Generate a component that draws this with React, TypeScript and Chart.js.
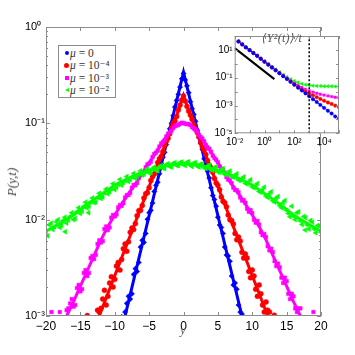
import React, { useEffect, useRef } from "react";
import { Chart, registerables } from "chart.js";

Chart.register(...registerables);

// ---------- main panel data: P(y,t) ----------
const blueX = [-9, -8.5, -8, -7.5, -7, -6.5, -6, -5.5, -5, -4.5, -4, -3.5, -3, -2.5, -2, -1.5, -1, -0.5, 0, 0.5, 1, 1.5, 2, 2.5, 3, 3.5, 4, 4.5, 5, 5.5, 6, 6.5, 7, 7.5, 8, 8.5];
const blueY = [0.00098, 0.0011, 0.0016, 0.0017, 0.0031, 0.0036, 0.0061, 0.0072, 0.0118, 0.0149, 0.0228, 0.03, 0.0445, 0.0602, 0.088, 0.12, 0.173, 0.238, 0.33, 0.245, 0.168, 0.124, 0.085, 0.0625, 0.0428, 0.0318, 0.0214, 0.0162, 0.0106, 0.0083, 0.0052, 0.0042, 0.0026, 0.0022, 0.0013, 0.00105];
const blueX2 = [-8.25, -7.75, -7.25, -6.75, -6.25, -5.75, -5.25, -4.75, -4.25, -3.75, -3.25, -2.75, -2.25, -1.75, -1.25, -0.75, -0.25, 0.25, 0.75, 1.25, 1.75, 2.25, 2.75, 3.25, 3.75, 4.25, 4.75, 5.25, 5.75, 6.25, 6.75, 7.25, 7.75, 8.25];
const blueY2 = [0.00135, 0.0015, 0.0027, 0.0029, 0.0052, 0.0058, 0.0101, 0.0125, 0.0196, 0.0245, 0.0382, 0.05, 0.075, 0.1, 0.148, 0.2, 0.29, 0.282, 0.208, 0.142, 0.105, 0.071, 0.0535, 0.0355, 0.027, 0.0178, 0.0138, 0.0088, 0.0072, 0.0043, 0.0037, 0.0021, 0.0019, 0.0011];
const blueFitX = [-9, 0, 9];
const blueFitY = [0.00071, 0.34, 0.00071];

const redX = [-14, -12.5, -12, -11.5, -11, -10.5, -10, -9.5, -9, -8.5, -8, -7.5, -7, -6.5, -6, -5.5, -5, -4.5, -4, -3.5, -3, -2.5, -2, -1.5, -1, -0.5, 0, 0.5, 1, 1.5, 2, 2.5, 3, 3.5, 4, 4.5, 5, 5.5, 6, 6.5, 7, 7.5, 8, 8.5, 9, 9.5, 10, 10.5, 11, 11.5, 12, 12.5, 13.2];
const redY = [0.00101, 0.00115, 0.0012, 0.00185, 0.0016, 0.00255, 0.0024, 0.0036, 0.00385, 0.0056, 0.0059, 0.0082, 0.0091, 0.0124, 0.014, 0.0186, 0.0215, 0.028, 0.0332, 0.0428, 0.051, 0.0655, 0.078, 0.099, 0.118, 0.155, 0.192, 0.15, 0.122, 0.0965, 0.0805, 0.063, 0.053, 0.041, 0.0345, 0.0268, 0.0228, 0.0172, 0.015, 0.0112, 0.0098, 0.0072, 0.0066, 0.0046, 0.0044, 0.0029, 0.003, 0.0019, 0.0021, 0.0013, 0.0014, 0.0011, 0.00102];
const redX2 = [-12.25, -11.75, -11.25, -10.75, -10.25, -9.75, -9.25, -8.75, -8.25, -7.75, -7.25, -6.75, -6.25, -5.75, -5.25, -4.75, -4.25, -3.75, -3.25, -2.75, -2.25, -1.75, -1.25, -0.75, -0.25, 0.25, 0.75, 1.25, 1.75, 2.25, 2.75, 3.25, 3.75, 4.25, 4.75, 5.25, 5.75, 6.25, 6.75, 7.25, 7.75, 8.25, 8.75, 9.25, 9.75, 10.25, 10.75, 11.25, 11.75, 12.25];
const redY2 = [0.0011, 0.0015, 0.0013, 0.0022, 0.002, 0.0033, 0.003, 0.005, 0.0047, 0.0074, 0.0079, 0.011, 0.0125, 0.0168, 0.019, 0.0255, 0.0298, 0.0392, 0.0452, 0.059, 0.07, 0.09, 0.106, 0.138, 0.175, 0.171, 0.134, 0.11, 0.087, 0.0725, 0.0565, 0.0475, 0.0368, 0.0312, 0.024, 0.0205, 0.0155, 0.0136, 0.01, 0.009, 0.0062, 0.006, 0.004, 0.004, 0.0025, 0.0026, 0.0016, 0.0017, 0.0011, 0.00115];
const redFitX = [-13, -2, -1, 0, 1, 2, 13];
const redFitY = [0.00073, 0.0794, 0.12, 0.195, 0.12, 0.0794, 0.00073];

const magX = [-19.2, -18, -17, -16.5, -16, -15.5, -15, -14.5, -14, -13.5, -13, -12.5, -12, -11.5, -11, -10.5, -10, -9.5, -9, -8.5, -8, -7.5, -7, -6.5, -6, -5.5, -5, -4.5, -4, -3.5, -3, -2.5, -2, -1.5, -1, -0.5, 0, 0.5, 1, 1.5, 2, 2.5, 3, 3.5, 4, 4.5, 5, 5.5, 6, 6.5, 7, 7.5, 8, 8.5, 9, 9.5, 10, 10.5, 11, 11.5, 12, 12.5, 13, 13.5, 14, 14.5, 15, 15.5, 16, 16.5, 17, 18.9];
const magY = [0.0011, 0.0011, 0.00115, 0.00135, 0.00125, 0.00195, 0.0018, 0.0028, 0.0026, 0.004, 0.0039, 0.0056, 0.0058, 0.008, 0.0078, 0.0105, 0.0108, 0.0134, 0.0139, 0.017, 0.018, 0.0215, 0.0228, 0.0272, 0.0296, 0.035, 0.0382, 0.0448, 0.0495, 0.0575, 0.064, 0.073, 0.0805, 0.0895, 0.095, 0.0995, 0.101, 0.098, 0.096, 0.0885, 0.082, 0.0718, 0.0652, 0.0562, 0.0508, 0.0436, 0.0395, 0.0336, 0.0308, 0.026, 0.024, 0.0203, 0.0192, 0.0158, 0.015, 0.0121, 0.0117, 0.0093, 0.0089, 0.0069, 0.0066, 0.0048, 0.0046, 0.0033, 0.0032, 0.0022, 0.0023, 0.0015, 0.0016, 0.0011, 0.0012, 0.0011];
const magX2 = [-16.75, -16.25, -15.75, -15.25, -14.75, -14.25, -13.75, -13.25, -12.75, -12.25, -11.75, -11.25, -10.75, -10.25, -9.75, -9.25, -8.75, -8.25, -7.75, -7.25, -6.75, -6.25, -5.75, -5.25, -4.75, -4.25, -3.75, -3.25, -2.75, -2.25, -1.75, -1.25, -0.75, -0.25, 0.25, 0.75, 1.25, 1.75, 2.25, 2.75, 3.25, 3.75, 4.25, 4.75, 5.25, 5.75, 6.25, 6.75, 7.25, 7.75, 8.25, 8.75, 9.25, 9.75, 10.25, 10.75, 11.25, 11.75, 12.25, 12.75, 13.25, 13.75, 14.25, 14.75, 15.25, 15.75, 16.25, 16.75];
const magY2 = [0.0012, 0.0015, 0.0013, 0.0021, 0.0019, 0.003, 0.0028, 0.0042, 0.0043, 0.0061, 0.006, 0.0085, 0.0083, 0.0112, 0.0113, 0.0142, 0.0148, 0.018, 0.019, 0.023, 0.024, 0.0292, 0.031, 0.0375, 0.04, 0.0482, 0.052, 0.0618, 0.067, 0.078, 0.084, 0.0935, 0.096, 0.1015, 0.099, 0.0985, 0.091, 0.086, 0.0755, 0.0695, 0.0595, 0.0545, 0.0462, 0.042, 0.0358, 0.033, 0.0276, 0.0256, 0.0215, 0.0202, 0.017, 0.016, 0.013, 0.0126, 0.01, 0.0097, 0.0074, 0.0071, 0.0053, 0.005, 0.0037, 0.0035, 0.0025, 0.0025, 0.0017, 0.0017, 0.0012, 0.0012];
const magFitX = [-18, -17, -16, -15, -14, -13, -12, -11, -10, -9, -8, -7, -6, -5, -4, -3, -2, -1, 0, 1, 2, 3, 4, 5, 6, 7, 8, 9, 10, 11, 12, 13, 14, 15, 16, 17, 18];
const magFitY = [0.000692, 0.001, 0.00141, 0.00204, 0.00295, 0.00427, 0.00617, 0.00851, 0.0112, 0.0145, 0.0186, 0.0234, 0.0302, 0.0389, 0.0501, 0.0646, 0.0813, 0.0955, 0.1, 0.0955, 0.0813, 0.0646, 0.0501, 0.0389, 0.0302, 0.0234, 0.0186, 0.0145, 0.0112, 0.00851, 0.00617, 0.00427, 0.00295, 0.00204, 0.00141, 0.001, 0.000692];

const greenX = [-20, -19.5, -19, -18.5, -18, -17.5, -17.2, -17, -16.5, -16, -15.5, -15, -14.5, -14, -13.8, -13.5, -13, -12.5, -12, -11.5, -11, -10.5, -10, -9.5, -9, -8.5, -8, -7.5, -7, -6.5, -6, -5.5, -5, -4.5, -4, -3.5, -3, -2.5, -2, -1.5, -1, -0.5, 0, 0.5, 1, 1.5, 2, 2.5, 3, 3.5, 4, 4.5, 5, 5.5, 6, 6.5, 7, 7.5, 8, 8.5, 9, 9.5, 10, 10.5, 11, 11.5, 12, 12.5, 13, 13.5, 14, 14.5, 15, 15.5, 16, 16.5, 17, 17.5, 17.7, 18, 18.5, 19, 19.5, 20];
const greenY = [0.0072, 0.0088, 0.0079, 0.0095, 0.0083, 0.0098, 0.0075, 0.0092, 0.0108, 0.01, 0.0121, 0.0116, 0.0137, 0.0132, 0.0118, 0.0152, 0.015, 0.017, 0.0166, 0.019, 0.0185, 0.021, 0.0205, 0.0233, 0.0228, 0.0255, 0.0248, 0.0278, 0.0268, 0.0298, 0.029, 0.0318, 0.0305, 0.0338, 0.0325, 0.0352, 0.0342, 0.0372, 0.0355, 0.0385, 0.0365, 0.0392, 0.0372, 0.0395, 0.0368, 0.0388, 0.0358, 0.0378, 0.0345, 0.0362, 0.033, 0.0348, 0.0312, 0.033, 0.0296, 0.0305, 0.028, 0.0287, 0.0258, 0.0266, 0.0238, 0.0245, 0.0219, 0.0225, 0.0196, 0.0205, 0.0176, 0.0186, 0.0157, 0.0168, 0.014, 0.015, 0.0125, 0.0107, 0.0108, 0.0118, 0.0097, 0.0108, 0.0078, 0.0088, 0.0098, 0.008, 0.0087, 0.0074];
const greenX2 = [-19.75, -19.25, -18.75, -18.25, -17.75, -17.25, -16.75, -16.25, -15.75, -15.25, -14.75, -14.25, -13.75, -13.25, -12.75, -12.25, -11.75, -11.25, -10.75, -10.25, -9.75, -9.25, -8.75, -8.25, -7.75, -7.25, -6.75, -6.25, -5.75, -5.25, -4.75, -4.25, -3.75, -3.25, -2.75, -2.25, -1.75, -1.25, -0.75, -0.25, 0.25, 0.75, 1.25, 1.75, 2.25, 2.75, 3.25, 3.75, 4.25, 4.75, 5.25, 5.75, 6.25, 6.75, 7.25, 7.75, 8.25, 8.75, 9.25, 9.75, 10.25, 10.75, 11.25, 11.75, 12.25, 12.75, 13.25, 13.75, 14.25, 14.75, 15.25, 15.75, 16.25, 16.75, 17.25, 17.75, 18.25, 18.75, 19.25, 19.75];
const greenY2 = [0.0068, 0.0092, 0.0084, 0.01, 0.0087, 0.0106, 0.0099, 0.0118, 0.0103, 0.0133, 0.0122, 0.0152, 0.0138, 0.0168, 0.0152, 0.0188, 0.0172, 0.0208, 0.0195, 0.0236, 0.0216, 0.0262, 0.0243, 0.0281, 0.026, 0.0302, 0.0282, 0.0322, 0.0296, 0.0338, 0.0308, 0.0352, 0.0322, 0.0366, 0.034, 0.0382, 0.0352, 0.039, 0.0362, 0.0397, 0.0364, 0.0399, 0.0356, 0.039, 0.0352, 0.038, 0.034, 0.0368, 0.0325, 0.0355, 0.031, 0.034, 0.0292, 0.032, 0.0275, 0.03, 0.0255, 0.0278, 0.0235, 0.026, 0.0214, 0.0238, 0.0192, 0.0218, 0.017, 0.0195, 0.0152, 0.0174, 0.0133, 0.0158, 0.0116, 0.0138, 0.01, 0.0121, 0.0089, 0.0105, 0.008, 0.0094, 0.0073, 0.0086];
const greenFitX = [-20, -18, -16, -14, -12, -10, -8, -6, -4, -2, 0, 2, 4, 6, 8, 10, 12, 14, 16, 18, 20];
const greenFitY = [0.00759, 0.00912, 0.0112, 0.0145, 0.0182, 0.0229, 0.0269, 0.0309, 0.0339, 0.0372, 0.038, 0.0372, 0.0339, 0.0309, 0.0269, 0.0229, 0.0182, 0.0145, 0.0112, 0.00912, 0.00759];

const mainXTicks = [-20, -15, -10, -5, 0, 5, 10, 15, 20];
const mainXLabels = ["\u221220", "\u221215", "\u221210", "\u22125", "0", "5", "10", "15", "20"];
const mainYTicks = [0.001, 0.01, 0.1, 1];
const mainYLabels = ["10\u207B\u00B3", "10\u207B\u00B2", "10\u207B\u00B9", "10\u2070"];

const legendLabels = ["0", "10\u207B\u2074", "10\u207B\u00B3", "10\u207B\u00B2"];

// ---------- inset data: <Y^2(t)>/t ----------
const insetT = [0.018, 0.032, 0.056, 0.1, 0.18, 0.32, 0.56, 1, 1.8, 3.2, 5.6, 10, 18, 32, 56, 100, 180, 320, 560, 1000, 1800, 3200, 5600, 10000, 18000, 32000, 56000, 100000];
const insetBlue = [39.8, 24.5, 15.1, 9.55, 5.89, 3.72, 2.29, 1.41, 0.871, 0.537, 0.339, 0.209, 0.129, 0.0813, 0.0501, 0.0309, 0.0191, 0.012, 0.00741, 0.00457, 0.00282, 0.00178, 0.0011, 0.000676, 0.000417, 0.000263, 0.000162, 0.00011];
const insetRed = [40.5, 24.8, 15.3, 9.66, 5.95, 3.76, 2.31, 1.43, 0.88, 0.545, 0.343, 0.212, 0.131, 0.0832, 0.0525, 0.0339, 0.0219, 0.0145, 0.01, 0.00724, 0.00537, 0.00398, 0.00295, 0.00219, 0.00166, 0.00129, 0.000977, 0.000759];
const insetMag = [41.0, 25.2, 15.5, 9.77, 6.03, 3.8, 2.34, 1.45, 0.89, 0.55, 0.35, 0.218, 0.135, 0.0891, 0.0575, 0.0398, 0.0282, 0.02, 0.0148, 0.0112, 0.00912, 0.00759, 0.00646, 0.00562, 0.0049, 0.00437, 0.00389, 0.00355];
const insetGreen = [42.7, 26.3, 16.2, 10.2, 6.31, 3.98, 2.45, 1.51, 0.955, 0.603, 0.389, 0.251, 0.166, 0.112, 0.0794, 0.0575, 0.0447, 0.0363, 0.0316, 0.0288, 0.0269, 0.0257, 0.0251, 0.0245, 0.024, 0.024, 0.0234, 0.0234];
const slopeT = [0.01, 4.6];
const slopeY = [13.5, 0.079];
const markT = [1000, 1000];
const markY = [0.00001, 100];

const insetXTicks = [0.01, 0.1, 1, 10, 100, 1000, 10000, 100000];
const insetXLabels = ["10\u207B\u00B2", "", "10\u2070", "", "10\u00B2", "", "10\u2074", ""];
const insetYTicks = [0.00001, 0.0001, 0.001, 0.01, 0.1, 1, 10, 100];
const insetYLabels = ["10\u207B\u2075", "", "10\u207B\u00B3", "", "10\u207B\u00B9", "", "10\u00B9", ""];

const BLUE = "#0000ff";
const RED = "#ff0000";
const MAG = "#ff00ff";
const GREEN = "#00ff00";

const pts = (xs: number[], ys: number[]) => xs.map((x, i) => ({ x, y: ys[i] }));

const findIdx = (arr: number[], v: number) => arr.findIndex((m) => Math.abs(m - v) / m < 1e-6);

const framePlugin = {
  id: "frameTicks",
  beforeDraw(chart: any, _a: any, o: any) {
    if (!o || !o.fill) return;
    const { ctx, chartArea: a } = chart;
    ctx.save();
    ctx.fillStyle = o.fill;
    ctx.fillRect(a.left, a.top, a.right - a.left, a.bottom - a.top);
    ctx.restore();
  },
  afterDraw(chart: any, _a: any, o: any) {
    const { ctx, chartArea: a } = chart;
    const xs = chart.scales.x;
    const ys = chart.scales.y;
    ctx.save();
    ctx.strokeStyle = o.color;
    ctx.lineWidth = 1;
    ctx.beginPath();
    xs.ticks.forEach((t: any) => {
      const p = Math.round(xs.getPixelForValue(t.value)) + 0.5;
      const L = t.minor ? o.minor : o.major;
      ctx.moveTo(p, a.bottom);
      ctx.lineTo(p, a.bottom - L);
      ctx.moveTo(p, a.top);
      ctx.lineTo(p, a.top + L);
    });
    ys.ticks.forEach((t: any) => {
      const p = Math.round(ys.getPixelForValue(t.value)) + 0.5;
      const L = t.minor ? o.minor : o.major;
      ctx.moveTo(a.left, p);
      ctx.lineTo(a.left + L, p);
      ctx.moveTo(a.right, p);
      ctx.lineTo(a.right - L, p);
    });
    ctx.stroke();
    ctx.strokeRect(a.left + 0.5, a.top + 0.5, a.right - a.left - 1, a.bottom - a.top - 1);
    ctx.restore();
  },
};

function scatterSet(xs: number[], ys: number[], color: string, style: string, r: number, rot = 0) {
  return {
    data: pts(xs, ys),
    backgroundColor: color,
    borderColor: color,
    pointStyle: style,
    pointRadius: r,
    pointRotation: rot,
    pointBorderWidth: 0.5,
    showLine: false,
  };
}

function fitSet(xs: number[], ys: number[], color: string) {
  return {
    data: pts(xs, ys),
    borderColor: color,
    backgroundColor: color,
    borderWidth: 3,
    pointRadius: 0,
    showLine: true,
    tension: 0,
  };
}

function insetSet(ys: number[], color: string, style: string, r: number, rot = 0) {
  return {
    data: pts(insetT, ys),
    borderColor: color,
    backgroundColor: color,
    borderWidth: 1,
    borderDash: [3, 2],
    pointStyle: style,
    pointRadius: r,
    pointRotation: rot,
    pointBorderWidth: 0.5,
    showLine: true,
  };
}

function MainChart() {
  const ref = useRef<HTMLCanvasElement>(null);
  useEffect(() => {
    if (!ref.current) return;
    const chart = new Chart(ref.current, {
      type: "scatter",
      data: {
        datasets: [
          scatterSet(greenX, greenY, GREEN, "triangle", 2.8, 270),
          scatterSet(greenX2, greenY2, GREEN, "triangle", 2.8, 270),
          fitSet(greenFitX, greenFitY, GREEN),
          scatterSet(magX, magY, MAG, "rect", 2.5),
          scatterSet(magX2, magY2, MAG, "rect", 2.5),
          fitSet(magFitX, magFitY, MAG),
          scatterSet(redX, redY, RED, "circle", 2.5),
          scatterSet(redX2, redY2, RED, "circle", 2.5),
          fitSet(redFitX, redFitY, RED),
          scatterSet(blueX, blueY, BLUE, "rectRot", 2.6),
          scatterSet(blueX2, blueY2, BLUE, "rectRot", 2.6),
          fitSet(blueFitX, blueFitY, BLUE),
        ] as any,
      },
      options: {
        responsive: false,
        animation: false,
        events: [],
        layout: { padding: { left: 25, right: 34, top: 27, bottom: 0 } },
        plugins: {
          legend: { display: false },
          tooltip: { enabled: false },
          frameTicks: { color: "#8c8c8c", major: 4, minor: 2, fill: null },
        } as any,
        scales: {
          x: {
            type: "linear",
            min: -20,
            max: 20,
            grid: { display: false, drawTicks: false },
            border: { display: false },
            afterBuildTicks: (s: any) => {
              s.ticks = mainXTicks.map((v) => ({ value: v }));
            },
            afterFit: (s: any) => {
              s.height = 39;
            },
            ticks: {
              autoSkip: false,
              maxRotation: 0,
              padding: 3,
              color: "#000",
              font: { family: "'Liberation Sans', Arial, sans-serif", size: 12 },
              callback: (v: any) => {
                const i = mainXTicks.indexOf(Number(v));
                return i >= 0 ? mainXLabels[i] : "";
              },
            },
          },
          y: {
            type: "logarithmic",
            min: 0.001,
            max: 1,
            grid: { display: false, drawTicks: false },
            border: { display: false },
            afterBuildTicks: (s: any) => {
              const t: any[] = [];
              for (let d = 0; d < mainYTicks.length; d++) {
                t.push({ value: mainYTicks[d] });
                if (d < mainYTicks.length - 1) {
                  for (let k = 2; k <= 9; k++) t.push({ value: mainYTicks[d] * k, minor: true });
                }
              }
              s.ticks = t;
            },
            afterFit: (s: any) => {
              s.width = 21;
            },
            ticks: {
              autoSkip: false,
              crossAlign: "far",
              padding: 0,
              color: "#000",
              font: { family: "'Liberation Sans', Arial, sans-serif", size: 11 },
              callback: (v: any) => {
                const i = findIdx(mainYTicks, Number(v));
                return i >= 0 ? mainYLabels[i] : "";
              },
            },
          },
        },
      } as any,
      plugins: [framePlugin as any],
    });
    return () => chart.destroy();
  }, []);
  return <canvas ref={ref} width={355} height={355} style={{ position: "absolute", left: 0, top: 0, width: 355, height: 355 }} />;
}

function InsetChart() {
  const ref = useRef<HTMLCanvasElement>(null);
  useEffect(() => {
    if (!ref.current) return;
    const chart = new Chart(ref.current, {
      type: "scatter",
      data: {
        datasets: [
          {
            data: pts(markT, markY),
            borderColor: "#000",
            borderWidth: 1.5,
            borderDash: [2, 2],
            pointRadius: 0,
            showLine: true,
          },
          insetSet(insetBlue, BLUE, "circle", 1.7),
          insetSet(insetRed, RED, "circle", 1.7),
          insetSet(insetMag, MAG, "rect", 1.7),
          insetSet(insetGreen, GREEN, "triangle", 2, 270),
          {
            data: pts(slopeT, slopeY),
            borderColor: "#000",
            borderWidth: 2,
            pointRadius: 0,
            showLine: true,
          },
        ] as any,
      },
      options: {
        responsive: false,
        animation: false,
        events: [],
        layout: { padding: { left: 0, right: 16, top: 3.7, bottom: 0 } },
        plugins: {
          legend: { display: false },
          tooltip: { enabled: false },
          frameTicks: { color: "#8c8c8c", major: 3, minor: 1.5, fill: "#ffffff" },
        } as any,
        scales: {
          x: {
            type: "logarithmic",
            min: 0.01,
            max: 100000,
            grid: { display: false, drawTicks: false },
            border: { display: false },
            afterBuildTicks: (s: any) => {
              s.ticks = insetXTicks.map((v) => ({ value: v }));
            },
            afterFit: (s: any) => {
              s.height = 21.7;
            },
            ticks: {
              autoSkip: false,
              maxRotation: 0,
              padding: 3,
              color: "#000",
              font: { family: "'Liberation Sans', Arial, sans-serif", size: 10 },
              callback: (v: any) => {
                const i = findIdx(insetXTicks, Number(v));
                return i >= 0 ? insetXLabels[i] : "";
              },
            },
          },
          y: {
            type: "logarithmic",
            min: 0.00001,
            max: 100,
            grid: { display: false, drawTicks: false },
            border: { display: false },
            afterBuildTicks: (s: any) => {
              s.ticks = insetYTicks.map((v) => ({ value: v }));
            },
            afterFit: (s: any) => {
              s.width = 34.7;
            },
            ticks: {
              autoSkip: false,
              padding: 2,
              color: "#000",
              font: { family: "'Liberation Sans', Arial, sans-serif", size: 10 },
              callback: (v: any) => {
                const i = findIdx(insetYTicks, Number(v));
                return i >= 0 ? insetYLabels[i] : "";
              },
            },
          },
        },
      } as any,
      plugins: [framePlugin as any],
    });
    return () => chart.destroy();
  }, []);
  return <canvas ref={ref} width={155} height={127} style={{ position: "absolute", left: 200, top: 28, width: 155, height: 127 }} />;
}

function LegendMarker({ i }: { i: number }) {
  const base: React.CSSProperties = { position: "absolute", left: 3, top: 4 };
  if (i === 0) return <span style={{ ...base, width: 4, height: 4, borderRadius: 2, background: BLUE, left: 4, top: 4 }} />;
  if (i === 1) return <span style={{ ...base, width: 5, height: 5, borderRadius: 3, background: RED }} />;
  if (i === 2) return <span style={{ ...base, width: 4, height: 4, background: MAG, left: 4, top: 4 }} />;
  return (
    <span
      style={{
        ...base,
        width: 0,
        height: 0,
        borderTop: "2.5px solid transparent",
        borderBottom: "2.5px solid transparent",
        borderRight: "4px solid " + GREEN,
        left: 4,
        top: 4,
      }}
    />
  );
}

export default function App() {
  const serif = "'Liberation Serif', 'DejaVu Serif', serif";
  return (
    <div style={{ position: "fixed", left: 0, top: 0, width: 355, height: 355, background: "#fff", overflow: "hidden" }}>
      <MainChart />
      <InsetChart />
      <div
        style={{
          position: "absolute",
          left: 58,
          top: 45,
          width: 56,
          height: 51,
          border: "1px solid #8c8c8c",
          background: "#fff",
          fontFamily: serif,
          fontSize: 11.5,
          color: "#333",
        }}
      >
        {legendLabels.map((lab, i) => (
          <div key={i} style={{ position: "absolute", left: 2, top: 0.5 + i * 12.6, height: 12, width: 54, lineHeight: "12px", whiteSpace: "nowrap" }}>
            <LegendMarker i={i} />
            <span style={{ position: "absolute", left: 9, top: 0 }}>
              <i>&mu;</i> = {lab}
            </span>
          </div>
        ))}
      </div>
      <div
        style={{
          position: "absolute",
          left: 12,
          top: 182,
          transform: "translate(-50%, -50%) rotate(-90deg)",
          fontFamily: serif,
          fontStyle: "italic",
          fontSize: 13,
          color: "#444",
          whiteSpace: "nowrap",
        }}
      >
        P(y,t)
      </div>
      <div
        style={{
          position: "absolute",
          left: 183,
          top: 330,
          transform: "translate(-50%, -50%)",
          fontFamily: serif,
          fontStyle: "italic",
          fontSize: 12,
          color: "#555",
        }}
      >
        y
      </div>
      <div
        style={{
          position: "absolute",
          left: 282,
          top: 38,
          transform: "translate(-50%, -50%)",
          fontFamily: serif,
          fontStyle: "italic",
          fontSize: 12,
          color: "#555",
          whiteSpace: "nowrap",
          letterSpacing: 0.3,
        }}
      >
        &#x27E8;Y&sup2;(t)&#x27E9;/t
      </div>
    </div>
  );
}
